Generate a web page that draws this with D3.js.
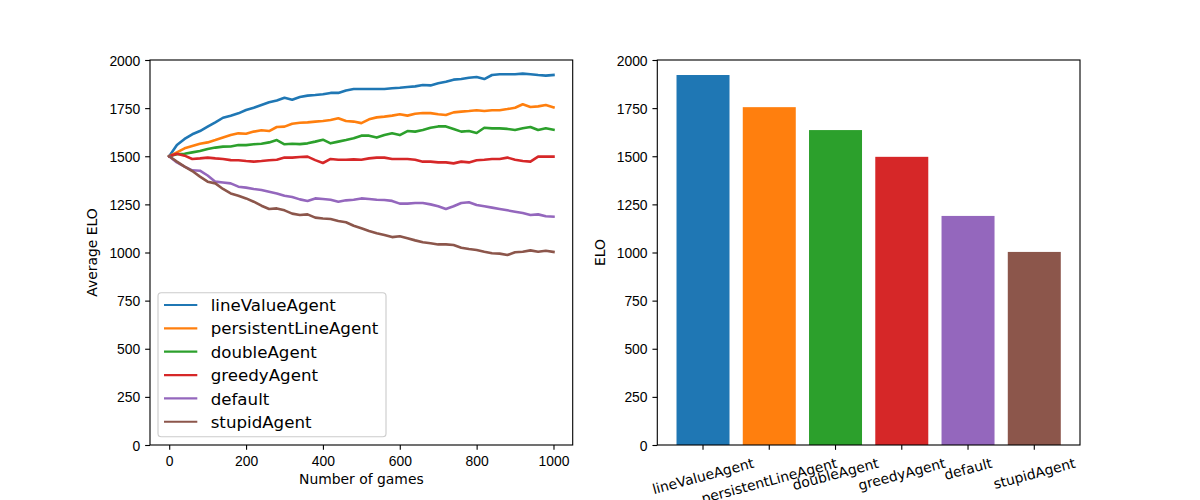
<!DOCTYPE html>
<html>
<head>
<meta charset="utf-8">
<script src="https://cdn.jsdelivr.net/npm/d3@7"></script>
<style>
	html, body { margin: 0; padding: 0; background: #fff; }
	svg { display: block; font-family: "DejaVu Sans", sans-serif; }
	.tick text { font-size: 13.9px; fill: #000; }
	.tick line { stroke: #000; stroke-width: 1.11px; }
</style>
</head>
<body>
<svg id="chart" width="1200" height="500"></svg>
<script>
// Agents (legend / bar order)
const agents = ['lineValueAgent', 'persistentLineAgent', 'doubleAgent', 'greedyAgent', 'default', 'stupidAgent'];
const colors = ['#1f77b4', '#ff7f0e', '#2ca02c', '#d62728', '#9467bd', '#8c564b'];

// Sample points along the game axis (read every 20 games)
const games = [0, 20, 40, 60, 80, 100, 120, 140, 160, 180, 200, 220, 240, 260, 280, 300, 320, 340, 360, 380,
	400, 420, 440, 460, 480, 500, 520, 540, 560, 580, 600, 620, 640, 660, 680, 700, 720, 740, 760, 780,
	800, 820, 840, 860, 880, 900, 920, 940, 960, 980, 1000];

// Average ELO per agent
const lineValueElo = [1500, 1558, 1590, 1614, 1631, 1654, 1676, 1700, 1711, 1723, 1740, 1752, 1766, 1780, 1790, 1804, 1794, 1808, 1815, 1818,
	1822, 1829, 1829, 1842, 1849, 1849, 1849, 1849, 1849, 1853, 1856, 1860, 1863, 1870, 1868, 1879, 1887, 1898, 1901, 1908,
	1912, 1901, 1922, 1926, 1926, 1926, 1929, 1926, 1922, 1919, 1922];
const persistentLineElo = [1500, 1520, 1541, 1553, 1565, 1572, 1584, 1597, 1610, 1619, 1617, 1628, 1635, 1631, 1652, 1654, 1669, 1674, 1676, 1680,
	1683, 1688, 1697, 1683, 1680, 1672, 1692, 1702, 1706, 1711, 1718, 1711, 1721, 1725, 1724, 1718, 1714, 1728, 1732, 1735,
	1739, 1735, 1739, 1739, 1745, 1752, 1770, 1756, 1759, 1766, 1754];
const doubleElo = [1500, 1510, 1513, 1520, 1527, 1538, 1545, 1550, 1551, 1558, 1558, 1562, 1565, 1572, 1584, 1562, 1565, 1563, 1567, 1576,
	1586, 1567, 1576, 1584, 1593, 1607, 1607, 1597, 1610, 1619, 1610, 1631, 1628, 1636, 1648, 1655, 1655, 1642, 1628, 1631,
	1621, 1648, 1645, 1645, 1642, 1636, 1645, 1652, 1636, 1645, 1638];
const greedyElo = [1500, 1513, 1503, 1486, 1489, 1493, 1489, 1486, 1480, 1479, 1475, 1472, 1475, 1479, 1482, 1493, 1493, 1496, 1498, 1480,
	1465, 1486, 1482, 1482, 1484, 1482, 1489, 1493, 1493, 1486, 1486, 1486, 1482, 1472, 1472, 1468, 1468, 1463, 1472, 1468,
	1479, 1482, 1486, 1486, 1493, 1482, 1475, 1472, 1498, 1498, 1498];
const defaultElo = [1500, 1468, 1446, 1427, 1425, 1400, 1368, 1364, 1359, 1342, 1337, 1330, 1325, 1316, 1307, 1295, 1288, 1276, 1268, 1281,
	1278, 1274, 1264, 1271, 1274, 1281, 1278, 1274, 1273, 1268, 1254, 1254, 1257, 1257, 1250, 1240, 1226, 1240, 1257, 1261,
	1247, 1240, 1233, 1226, 1219, 1212, 1205, 1195, 1198, 1188, 1186];
const stupidElo = [1500, 1472, 1446, 1423, 1394, 1368, 1359, 1330, 1307, 1295, 1281, 1264, 1243, 1226, 1229, 1219, 1202, 1195, 1198, 1181,
	1177, 1174, 1164, 1157, 1139, 1126, 1112, 1100, 1091, 1080, 1084, 1074, 1063, 1053, 1048, 1042, 1042, 1039, 1025, 1018,
	1013, 1004, 996, 994, 987, 1001, 1004, 1011, 1004, 1009, 1003];
const series = [lineValueElo, persistentLineElo, doubleElo, greedyElo, defaultElo, stupidElo];

// Final ELO per agent (bar chart)
const finalElo = [1922, 1755, 1636, 1497, 1190, 1003];

const xTicks = [0, 200, 400, 600, 800, 1000];
const yTicks = [0, 250, 500, 750, 1000, 1250, 1500, 1750, 2000];

// Layout, matching matplotlib's default subplot params for a 12x5 figure
const axTop = 60;
const axBottom = 445;
const left1 = 150;
const right1 = 572.7;
const left2 = 657.3;
const right2 = 1080;
const tickLen = 4.86;

const svg = d3.select('#chart');

const y = d3.scaleLinear().domain([0, 2000]).range([axBottom, axTop]);
const x = d3.scaleLinear().domain([-50, 1050]).range([left1, right1]);
const xBar = d3.scaleBand().domain(agents).range([left2, right2])
	.paddingInner(0.2).paddingOuter(0.29);

function styleAxis(g) {
	g.select('.domain').remove();
	g.selectAll('.tick text').attr('font-family', null).attr('font-size', null);
}

// ---------- Left panel: ELO over games ----------
const gLeft = svg.append('g');

gLeft.append('g')
	.attr('transform', `translate(0,${axBottom})`)
	.call(d3.axisBottom(x).tickValues(xTicks).tickSize(tickLen).tickPadding(5.8).tickFormat(d3.format('d')))
	.call(styleAxis);

gLeft.append('g')
	.attr('transform', `translate(${left1},0)`)
	.call(d3.axisLeft(y).tickValues(yTicks).tickSize(tickLen).tickPadding(4.86).tickFormat(d3.format('d')))
	.call(styleAxis)
	.call(g => g.selectAll('.tick text').attr('dy', '0.36em'));

const line = d3.line()
	.x((d, i) => x(games[i]))
	.y(d => y(d));

gLeft.append('g').selectAll('path').data(series).enter().append('path')
	.attr('d', line)
	.attr('fill', 'none')
	.attr('stroke', (d, i) => colors[i])
	.attr('stroke-width', 2.6)
	.attr('stroke-linejoin', 'round')
	.attr('stroke-linecap', 'square');

gLeft.append('rect')
	.attr('x', left1).attr('y', axTop)
	.attr('width', right1 - left1).attr('height', axBottom - axTop)
	.attr('fill', 'none').attr('stroke', '#000').attr('stroke-width', 1.11);

gLeft.append('text')
	.attr('x', (left1 + right1) / 2).attr('y', 483.5)
	.attr('text-anchor', 'middle').attr('font-size', 13.9)
	.text('Number of games');

gLeft.append('text')
	.attr('transform', `translate(96.5,${(axTop + axBottom) / 2}) rotate(-90)`)
	.attr('text-anchor', 'middle').attr('font-size', 13.9)
	.text('Average ELO');

// Legend
const legendFont = 16.67;
const legend = gLeft.append('g');
legend.append('rect')
	.attr('x', 158).attr('y', 292.7)
	.attr('width', 228).attr('height', 144)
	.attr('rx', 3.3).attr('ry', 3.3)
	.attr('fill', '#fff').attr('fill-opacity', 0.8)
	.attr('stroke', '#cccccc').attr('stroke-width', 1.11);

const rows = legend.selectAll('g.row').data(agents).enter().append('g')
	.attr('class', 'row')
	.attr('transform', (d, i) => `translate(0,${305 + i * 23.35})`);

rows.append('line')
	.attr('x1', 164).attr('x2', 197.3)
	.attr('stroke', (d, i) => colors[i])
	.attr('stroke-width', 2.2);

rows.append('text')
	.attr('x', 210.7).attr('y', 6.1)
	.attr('font-size', legendFont)
	.text(d => d);

// ---------- Right panel: final ELO ----------
const gRight = svg.append('g');

gRight.append('g').selectAll('rect').data(finalElo).enter().append('rect')
	.attr('x', (d, i) => xBar(agents[i]))
	.attr('y', d => y(d))
	.attr('width', xBar.bandwidth())
	.attr('height', d => y(0) - y(d))
	.attr('fill', (d, i) => colors[i]);

gRight.append('g')
	.attr('transform', `translate(${left2},0)`)
	.call(d3.axisLeft(y).tickValues(yTicks).tickSize(tickLen).tickPadding(4.86).tickFormat(d3.format('d')))
	.call(styleAxis)
	.call(g => g.selectAll('.tick text').attr('dy', '0.36em'));

// Bar tick marks and rotated labels (rotation 15°, bbox top at the pad)
const barTicks = gRight.append('g');
agents.forEach((name) => {
	const cx = xBar(name) + xBar.bandwidth() / 2;
	barTicks.append('line')
		.attr('x1', cx).attr('x2', cx)
		.attr('y1', axBottom).attr('y2', axBottom + tickLen)
		.attr('stroke', '#000').attr('stroke-width', 1.11);
	const label = barTicks.append('text')
		.attr('text-anchor', 'middle').attr('font-size', 13.9)
		.attr('dy', '0.35em')
		.text(name);
	const w = label.node().getComputedTextLength();
	const h = 13.9 * 1.164;
	const a = 15 * Math.PI / 180;
	const bh = w * Math.sin(a) + h * Math.cos(a);
	label.attr('transform', `translate(${cx},${axBottom + tickLen + 4.86 + bh / 2}) rotate(-15)`);
});

gRight.append('rect')
	.attr('x', left2).attr('y', axTop)
	.attr('width', right2 - left2).attr('height', axBottom - axTop)
	.attr('fill', 'none').attr('stroke', '#000').attr('stroke-width', 1.11);

gRight.append('text')
	.attr('transform', `translate(605,${(axTop + axBottom) / 2}) rotate(-90)`)
	.attr('text-anchor', 'middle').attr('font-size', 13.9)
	.text('ELO');
</script>
</body>
</html>
